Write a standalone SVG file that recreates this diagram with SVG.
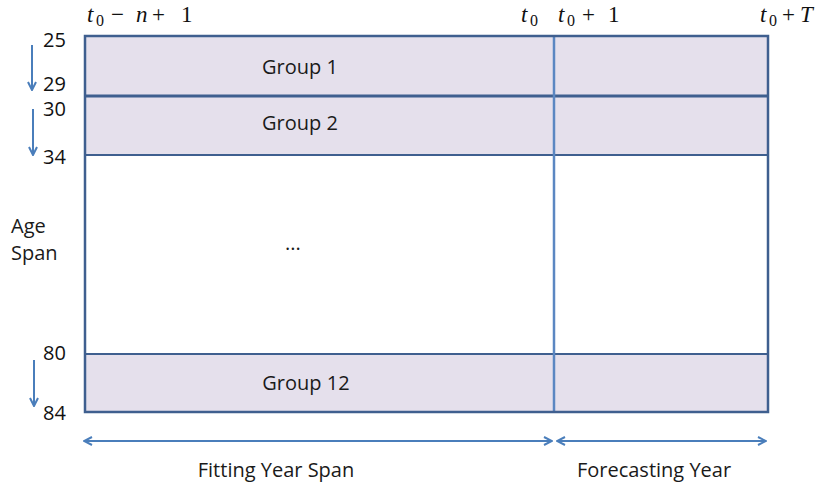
<svg xmlns="http://www.w3.org/2000/svg" width="827" height="490" viewBox="0 0 827 490">
<style>
.lbl{font-family:"Open Sans","Liberation Sans",sans-serif;font-size:20px;fill:#1a1a1a}
.num{font-family:"Open Sans","Liberation Sans",sans-serif;font-size:20px;fill:#111}
.math{font-family:"Liberation Serif","DejaVu Serif",serif;font-size:23px;fill:#111}
.mi{font-style:italic}
.sub{font-size:16px}
.band{fill:#E5E0EC;stroke:none}
.frame{fill:none;stroke:#3F5F8F;stroke-width:2.5}
.hl{stroke:#3F5F8F;stroke-width:2}
.vl{stroke:#5B87C2;stroke-width:2.5}
.arr{stroke:#4A7EBB;stroke-width:2;fill:none}
</style>
<defs>
<marker id="ah" viewBox="0 0 10 10" refX="9" refY="5" markerWidth="10" markerHeight="10" markerUnits="userSpaceOnUse" orient="auto-start-reverse">
<path d="M1,1 L9,5 L1,9" fill="none" stroke="#4A7EBB" stroke-width="2"/>
</marker>
</defs>
<g id="grid">
<rect class="band" x="85" y="36" width="683" height="119"/>
<rect class="band" x="85" y="354" width="683" height="58"/>
<line class="hl" x1="85" y1="96" x2="768" y2="96" style="stroke-width:3"/>
<line class="hl" x1="85" y1="155" x2="768" y2="155"/>
<line class="hl" x1="85" y1="354" x2="768" y2="354"/>
<line class="vl" x1="554" y1="36" x2="554" y2="412"/>
<rect class="frame" x="85" y="36" width="683" height="376"/>
</g>
<g id="group1"><text class="lbl" x="300" y="74" text-anchor="middle">Group 1</text></g>
<g id="group2"><text class="lbl" x="300" y="130" text-anchor="middle">Group 2</text></g>
<g id="dots"><text class="lbl" x="293" y="250" text-anchor="middle">...</text></g>
<g id="group12"><text class="lbl" x="306" y="390" text-anchor="middle">Group 12</text></g>
<g id="ages">
<text class="num" x="43" y="47">25</text>
<text class="num" x="43" y="91">29</text>
<text class="num" x="43" y="116">30</text>
<text class="num" x="43" y="164">34</text>
<text class="num" x="43" y="360">80</text>
<text class="num" x="43" y="420">84</text>
<text class="lbl" x="11" y="233">Age</text>
<text class="lbl" x="11" y="260">Span</text>
</g>
<g id="years">
<text class="math" y="22"><tspan class="mi" x="87">t</tspan><tspan class="sub" x="96" y="26">0</tspan><tspan x="111" y="22">−</tspan><tspan class="mi" x="136">n</tspan><tspan x="152">+</tspan><tspan x="181">1</tspan></text>
<text class="math" y="22"><tspan class="mi" x="521">t</tspan><tspan class="sub" x="530" y="26">0</tspan></text>
<text class="math" y="22"><tspan class="mi" x="558">t</tspan><tspan class="sub" x="567" y="26">0</tspan><tspan x="582" y="22">+</tspan><tspan x="608">1</tspan></text>
<text class="math" y="22"><tspan class="mi" x="760">t</tspan><tspan class="sub" x="769" y="26">0</tspan><tspan x="782" y="22">+</tspan><tspan class="mi" x="800">T</tspan></text>
</g>
<g id="connectors">
<line class="arr" x1="32" y1="45" x2="32" y2="90" marker-end="url(#ah)"/>
<line class="arr" x1="33" y1="109" x2="33" y2="155" marker-end="url(#ah)"/>
<line class="arr" x1="34" y1="360" x2="34" y2="406" marker-end="url(#ah)"/>
<line class="arr" x1="84" y1="441" x2="552" y2="441" marker-start="url(#ah)" marker-end="url(#ah)"/>
<line class="arr" x1="557" y1="441" x2="766" y2="441" marker-start="url(#ah)" marker-end="url(#ah)"/>
</g>
<g id="axis-labels">
<text class="lbl" x="276" y="477" text-anchor="middle">Fitting Year Span</text>
<text class="lbl" x="654" y="477" text-anchor="middle">Forecasting Year</text>
</g>
</svg>
